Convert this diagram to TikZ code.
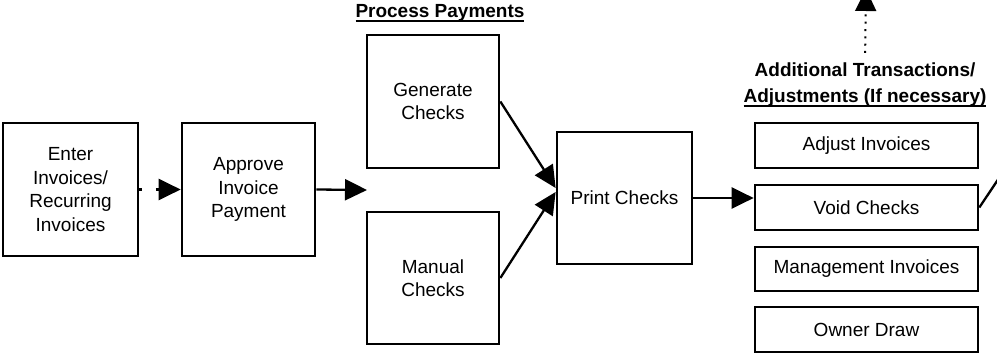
\documentclass[tikz,border=0pt]{standalone}
\usepackage{fontspec}
\setmainfont{Liberation Sans}
\usetikzlibrary{arrows.meta,calc}
% text with a heavier rule under it, as in the group headings
\newcommand{\ruledtext}[1]{\setbox0\hbox{#1}\rlap{\rule[-4pt]{\wd0}{1.6pt}}\box0}
\begin{document}
\begin{tikzpicture}[x=1pt,y=-1pt,
  txt/.style={font=\fontsize{19}{23.5}\selectfont},
  head/.style={font=\fontsize{19}{26}\selectfont\bfseries,align=center,inner sep=0pt},
  box/.style={draw,line width=2.7pt,inner sep=0pt,align=center,txt},
  sized/.style 2 args={minimum width=#1pt,minimum height=#2pt},
  tip/.style={-{Triangle[length=22pt,width=21pt]}},
  flow/.style={line width=2.3pt,tip},
  dotflow/.style={line width=2.6pt,dash pattern=on 2.6pt off 14pt,tip},
  fineflow/.style={line width=2pt,dash pattern=on 2pt off 5.3pt,tip},
  plain/.style={line width=2.3pt}]
  \useasboundingbox (0,0) rectangle (997,353);
  \fill[white] (0,0) rectangle (997,353);
  \clip (0,0) rectangle (997,353);

  % main flow
  \node[box,sized={135}{133}] (enter)   at (70.5,189.5) {Enter\\Invoices/\\Recurring\\Invoices};
  \node[box,sized={133}{133}] (approve) at (248.5,189.5) {Approve\\Invoice\\Payment};

  % process payments group
  \node[head] (pp) at (440,13) {\ruledtext{Process Payments}};
  \node[box,sized={132}{133}] (generate) at (433,101.5) {Generate\\Checks};
  \node[box,sized={132}{132}] (manual)   at (433,278)   {Manual\\Checks};
  \coordinate (ppin) at (367,190);

  \node[box,sized={135}{132}] (print) at (624.5,198) {Print Checks};

  % additional transactions group
  \node[head] (extra) at (865,85) {Additional Transactions/\\\ruledtext{Adjustments (If necessary)}};
  \node[box,sized={223}{45}] (adjust) at (866.5,145.5) {Adjust Invoices};
  \node[box,sized={223}{45}] (void)   at (866.5,207.5) {Void Checks};
  \node[box,sized={223}{44}] (mgmt)   at (866.5,269)   {Management Invoices};
  \node[box,sized={223}{45}] (owner)  at (866.5,329.5) {Owner Draw};
  \coordinate (topout) at (866,-11);
  \coordinate (rightout) at (1020,146.6);

  % connectors
  \draw[dotflow] (enter.east) -- (approve.west);
  \draw[flow] (approve.east) -- (ppin);
  \draw[flow] (generate.east) -- ($(print.west)+(0,-10)$);
  \draw[flow] (manual.east) -- ($(print.west)+(0,-6)$);
  \draw[flow] (print.east) -- (print.east -| void.west);
  \draw[plain] (void.east) -- (rightout);
  \draw[fineflow,shorten <=10pt] (extra.north) -- (topout);
\end{tikzpicture}
\end{document}
